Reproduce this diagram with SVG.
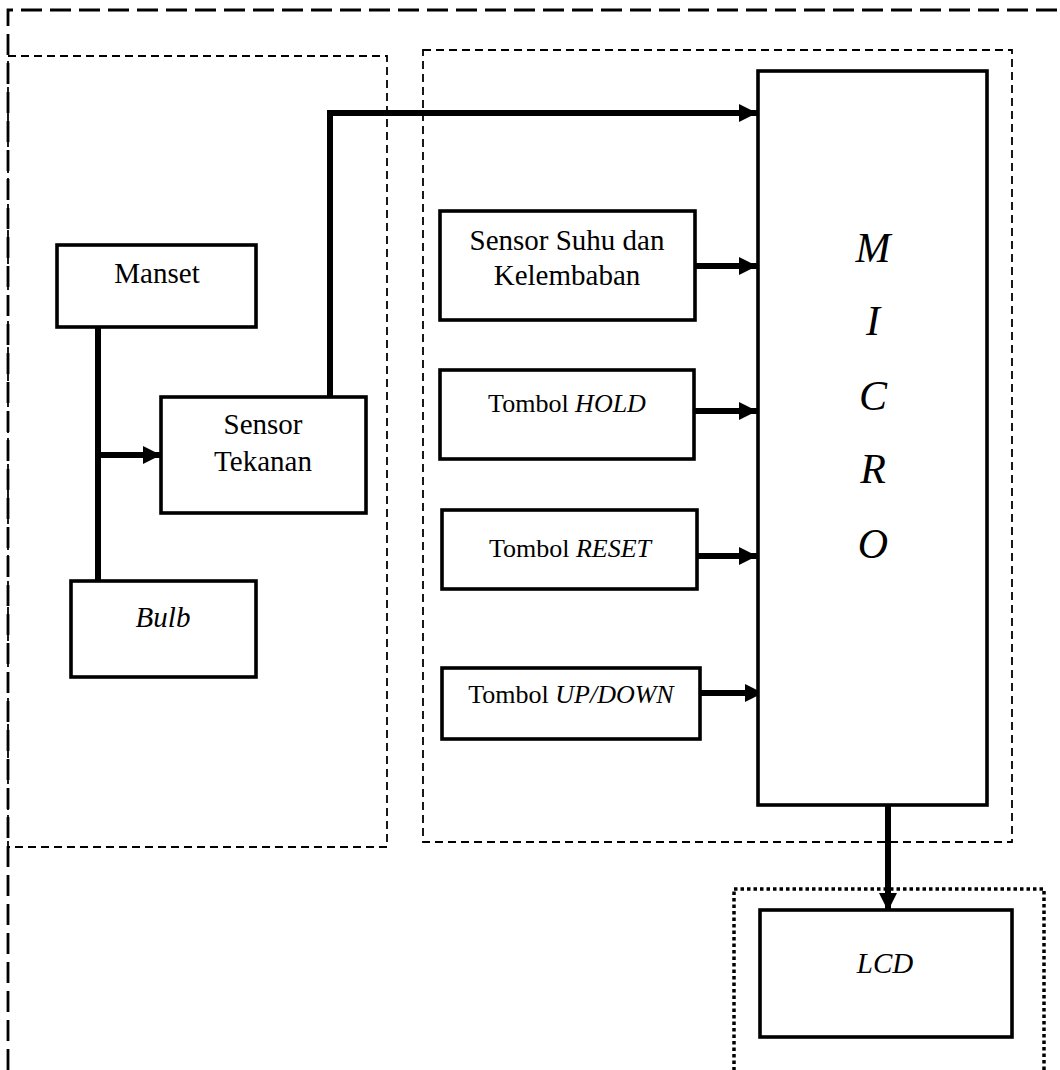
<svg xmlns="http://www.w3.org/2000/svg" width="1060" height="1070" viewBox="0 0 1060 1070">
<style>
.box{fill:#fff;stroke:#000;stroke-width:3.6}
.t{font-family:"Liberation Serif","Times New Roman",serif;font-size:29px;fill:#000;text-anchor:middle}
.tb{font-family:"Liberation Serif","Times New Roman",serif;font-size:26px;fill:#000;text-anchor:middle}
.m{font-family:"Liberation Serif","Times New Roman",serif;font-size:42px;font-style:italic;fill:#000;text-anchor:middle}
.c{fill:none;stroke:#000;stroke-width:6}
.grp{fill:none;stroke:#000;stroke-width:1.8;stroke-dasharray:8 5}
</style>
<defs>
<marker id="ah" markerUnits="userSpaceOnUse" markerWidth="18" markerHeight="18" refX="18" refY="9" orient="auto">
<path d="M0,0 L18,9 L0,18 z" fill="#000"/>
</marker>
</defs>
<rect width="1060" height="1070" fill="#fff"/>
<g id="outer-border">
<path d="M8,1070 L8,10 L1060,10" fill="none" stroke="#000" stroke-width="2.8" stroke-dasharray="21 8"/>
</g>
<g id="group-left"><rect class="grp" x="8" y="56" width="379" height="791"/></g>
<g id="group-mid"><rect class="grp" x="423" y="50" width="589" height="792"/></g>
<g id="group-lcd"><rect x="734" y="889" width="310" height="200" fill="none" stroke="#000" stroke-width="3.5" stroke-dasharray="3.5 3"/></g>
<g id="connectors">
<line class="c" x1="98" y1="327" x2="98" y2="581"/>
<line class="c" x1="98" y1="455" x2="161" y2="455" marker-end="url(#ah)"/>
<path class="c" d="M330,397 L330,113 L757,113" marker-end="url(#ah)"/>
<line class="c" x1="695" y1="266" x2="757" y2="266" marker-end="url(#ah)"/>
<line class="c" x1="694" y1="411" x2="757" y2="411" marker-end="url(#ah)"/>
<line class="c" x1="697" y1="556" x2="757" y2="556" marker-end="url(#ah)"/>
<line class="c" x1="700" y1="693" x2="763" y2="693" marker-end="url(#ah)"/>
<line class="c" x1="888" y1="805" x2="888" y2="911" marker-end="url(#ah)"/>
</g>
<g id="manset"><rect class="box" x="57" y="245" width="199" height="82"/><text class="t" x="157" y="283">Manset</text></g>
<g id="sensor-tekanan"><rect class="box" x="161" y="397" width="205" height="116"/><text class="t" x="263" y="434">Sensor</text><text class="t" x="263" y="471">Tekanan</text></g>
<g id="bulb"><rect class="box" x="71" y="581" width="185" height="96"/><text class="t" x="163" y="627" font-style="italic">Bulb</text></g>
<g id="sensor-suhu"><rect class="box" x="440" y="211" width="255" height="109"/><text class="t" x="567" y="250">Sensor Suhu dan</text><text class="t" x="567" y="285">Kelembaban</text></g>
<g id="tombol-hold"><rect class="box" x="440" y="370" width="254" height="89"/><text class="tb" x="567" y="412">Tombol <tspan font-style="italic">HOLD</tspan></text></g>
<g id="tombol-reset"><rect class="box" x="442" y="510" width="255" height="79"/><text class="tb" x="570" y="557">Tombol <tspan font-style="italic">RESET</tspan></text></g>
<g id="tombol-updown"><rect class="box" x="442" y="668" width="258" height="71"/><text class="tb" x="571" y="703">Tombol <tspan font-style="italic">UP/DOWN</tspan></text></g>
<g id="micro"><rect class="box" x="758" y="71" width="229" height="734"/>
<text class="m" x="873" y="262">M</text><text class="m" x="873" y="335">I</text><text class="m" x="873" y="410">C</text><text class="m" x="873" y="483">R</text><text class="m" x="873" y="558">O</text></g>
<g id="lcd"><rect class="box" x="760" y="910" width="252" height="127"/><text class="t" x="885" y="973" font-style="italic">LCD</text></g>
</svg>
